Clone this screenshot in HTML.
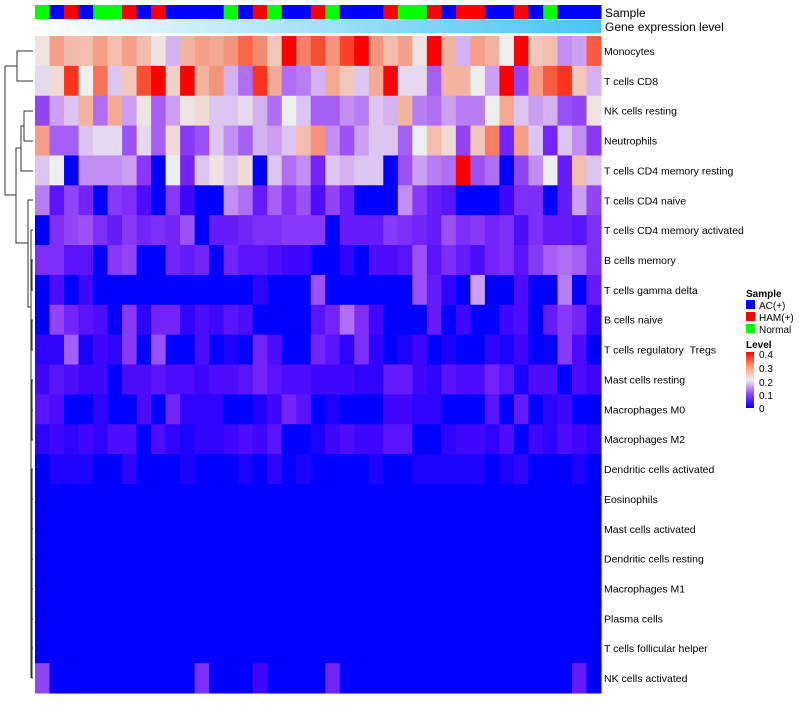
<!DOCTYPE html>
<html><head><meta charset="utf-8"><style>
body{margin:0;background:#fff;font-family:"Liberation Sans",sans-serif;}
svg text{font-family:"Liberation Sans",sans-serif;}
</style></head><body>
<svg id="chart" width="800" height="700" xmlns="http://www.w3.org/2000/svg">
<defs><linearGradient id="geneGrad" x1="0" x2="1" y1="0" y2="0"><stop offset="0" stop-color="#ffffff"/><stop offset="1" stop-color="#47c4f3"/></linearGradient>
<linearGradient id="levelGrad" x1="0" x2="0" y1="1" y2="0"><stop offset="0" stop-color="#0000ff"/><stop offset="0.25" stop-color="#9244f6"/><stop offset="0.5" stop-color="#eeeeee"/><stop offset="0.75" stop-color="#ff9a70"/><stop offset="1" stop-color="#ff0000"/></linearGradient></defs>
<g id="dendro" stroke="#333" stroke-width="1" fill="none">
<path d="M33 51H17V81H33"/><path d="M33 111H24V141H33"/><path d="M24 126H21V171H33"/><path d="M21 148H16V243H28"/>
<path d="M33 200H28V307H31"/><path d="M17 66H5V195H16"/>
<path d="M31 230V678"/><path d="M33 230H31M33 260H32V290H33M32 275H31M33 320H32V350H33M32 335H31M33 380H32V440H33M32 410H33M33 469H32V678H33M32 499H33M32 529H33M32 559H33M32 589H33M32 619H33M32 648H33"/>
</g>
<rect x="35" y="20" width="566" height="13" fill="url(#geneGrad)"/>
<text x="605" y="17" font-size="12">Sample</text>
<text x="605" y="31" font-size="12">Gene expression level</text>
<g>
<text x="746" y="297" font-size="10" font-weight="bold">Sample</text>
<rect x="746" y="300" width="9" height="9" fill="#0000ff"/><text x="759" y="309" font-size="10">AC(+)</text>
<rect x="746" y="312" width="9" height="9" fill="#ff0000"/><text x="759" y="321" font-size="10">HAM(+)</text>
<rect x="746" y="324" width="9" height="9" fill="#00ff00"/><text x="759" y="333" font-size="10">Normal</text>
<text x="746" y="348" font-size="10" font-weight="bold">Level</text>
<rect x="746" y="352" width="8" height="56" fill="url(#levelGrad)"/>
<text x="759" y="358" font-size="10">0.4</text>
<text x="759" y="372" font-size="10">0.3</text>
<text x="759" y="386" font-size="10">0.2</text>
<text x="759" y="399" font-size="10">0.1</text>
<text x="759" y="412" font-size="10">0</text>
</g>
</svg>
<script>
const rowNames=["Monocytes","T cells CD8","NK cells resting","Neutrophils","T cells CD4 memory resting","T cells CD4 naive","T cells CD4 memory activated","B cells memory","T cells gamma delta","B cells naive","T cells regulatory \u00a0Tregs","Mast cells resting","Macrophages M0","Macrophages M2","Dendritic cells activated","Eosinophils","Mast cells activated","Dendritic cells resting","Macrophages M1","Plasma cells","T cells follicular helper","NK cells activated"];
const sampleGroups="NAHANNHAHAAAANAHNAAHNAAAHNNHAHHAAHANAAA".slice(0,39).split("");
const z=new Array(39).fill(0);
const rMono=[0.21,0.28,0.25,0.25,0.28,0.25,0.28,0.25,0.21,0.17,0.26,0.28,0.27,0.29,0.33,0.3,0.24,0.4,0.31,0.35,0.29,0.36,0.4,0.29,0.25,0.28,0.21,0.4,0.26,0.17,0.28,0.26,0.2,0.4,0.24,0.25,0.15,0.16,0.34];
const rCD8=[0.19,0.22,0.37,0.2,0.32,0.18,0.24,0.35,0.4,0.23,0.4,0.26,0.29,0.17,0.13,0.37,0.27,0.13,0.14,0.17,0.27,0.24,0.18,0.27,0.4,0.19,0.19,0.12,0.26,0.26,0.2,0.16,0.4,0.1,0.28,0.34,0.37,0.24,0.17];
const rNKr=[0.1,0.16,0.18,0.26,0.13,0.27,0.16,0.21,0.12,0.16,0.21,0.22,0.18,0.18,0.19,0.17,0.13,0.2,0.18,0.12,0.12,0.15,0.14,0.18,0.17,0.26,0.14,0.13,0.16,0.14,0.14,0.2,0.27,0.18,0.16,0.17,0.11,0.1,0.21];
const rNeut=[0.28,0.12,0.12,0.18,0.19,0.19,0.11,0.19,0.12,0.22,0.09,0.11,0.18,0.15,0.12,0.17,0.16,0.18,0.25,0.29,0.15,0.11,0.16,0.18,0.18,0.12,0.2,0.25,0.22,0.1,0.24,0.31,0.07,0.28,0.18,0.07,0.18,0.15,0.09];
const rCD4mr=[0.18,0.2,0,0.15,0.15,0.15,0.16,0.09,0,0.2,0.07,0.18,0.21,0.18,0.22,0,0.18,0.13,0.15,0.07,0.18,0.17,0.18,0.18,0,0.11,0.16,0.14,0.13,0.4,0.11,0.13,0,0.1,0.15,0.2,0.06,0.25,0.18];
const rCD4n=[0.14,0.05,0.1,0.07,0,0.09,0.08,0.04,0,0.09,0.03,0,0,0.15,0.13,0.06,0.12,0.08,0.11,0.04,0.1,0.06,0,0,0,0.15,0.09,0.06,0.05,0,0,0,0.03,0.08,0.08,0,0.06,0.16,0.1];
const rCD4ma=[0,0.08,0.1,0.11,0.08,0.06,0.09,0.07,0.08,0.07,0.11,0,0.06,0.06,0.07,0.08,0.08,0.09,0.09,0.09,0,0.06,0.06,0.06,0.09,0.08,0.07,0.06,0.11,0.08,0.09,0.07,0.08,0.04,0.08,0.06,0.06,0.05,0.08];
const rBmem=[0.08,0.08,0.05,0.05,0,0.09,0.1,0,0,0.07,0.06,0.07,0,0.07,0.05,0.05,0.04,0.03,0.03,0,0,0.02,0,0.04,0.04,0.05,0.11,0.05,0.08,0.06,0.04,0.07,0.08,0.05,0.09,0.12,0.13,0.12,0.08];
const rGd=[0,0.04,0,0.03,0,0,0,0,0,0,0,0,0,0,0,0.02,0,0,0,0.11,0,0,0,0,0,0,0.11,0.06,0.02,0,0.16,0,0,0.04,0,0,0.14,0,0.06];
const rBn=[0,0.1,0.07,0.05,0.04,0,0.09,0.02,0.07,0.07,0.02,0.04,0.03,0.05,0.04,0,0,0,0,0.05,0.07,0.13,0.08,0.03,0,0,0,0.06,0,0.03,0,0,0.03,0.04,0,0.06,0.09,0.07,0.02];
const rTreg=[0.02,0.02,0.12,0.01,0.03,0.02,0.09,0,0.11,0,0,0.04,0,0.01,0,0.07,0.04,0,0,0.07,0.05,0.02,0.08,0.02,0,0.01,0.03,0,0.01,0,0,0.02,0.01,0.03,0,0,0.09,0.04,0];
const rMastR=[0.03,0.05,0.04,0.03,0.03,0,0.04,0.04,0.05,0.04,0.04,0.03,0.04,0.04,0.05,0.07,0.05,0.04,0.04,0.03,0.03,0.03,0.02,0.02,0.06,0.06,0.03,0.02,0.05,0.04,0.04,0.07,0.05,0.01,0.04,0.04,0,0.04,0.03];
const rM0=[0.05,0.04,0,0,0.02,0,0,0.04,0,0.07,0.02,0.02,0.02,0,0,0.01,0.03,0.07,0.05,0,0.01,0,0,0,0.03,0.03,0.02,0.02,0,0,0,0.05,0,0.06,0,0.02,0.03,0,0];
const rM2=[0.02,0.03,0.02,0.03,0.02,0.04,0.04,0,0.04,0.02,0.01,0.02,0.02,0.03,0.04,0.03,0.05,0,0,0.01,0.03,0.04,0.03,0.03,0.05,0.05,0,0,0.02,0.03,0.03,0.02,0.04,0,0.03,0.02,0.04,0.03,0.02];
const rDCa=[0,0.01,0.01,0.01,0,0,0.02,0,0,0,0.01,0,0,0,0.01,0,0.02,0,0.01,0,0,0,0,0.01,0,0,0.01,0.01,0.01,0.01,0.01,0,0.01,0.02,0,0,0,0.01,0];
const rNKa=[0.1,0,0,0,0,0,0,0,0,0,0,0.08,0,0,0,0.03,0,0,0,0,0.07,0,0,0,0,0,0,0,0,0,0,0,0,0,0,0,0,0.06,0];
const values=[rMono,rCD8,rNKr,rNeut,rCD4mr,rCD4n,rCD4ma,rBmem,rGd,rBn,rTreg,rMastR,rM0,rM2,rDCa,z,z,z,z,z,z,rNKa];

const X0=35,X1=601,Y0=36,Y1=693;
const nC=39,nR=rowNames.length;
const xs=i=>X0+i*(X1-X0)/nC, ys=j=>Y0+j*(Y1-Y0)/nR;
function col(v){
  let r,g,b;
  if(v<=0.2){const t=Math.max(0,v)/0.2;r=237*Math.pow(t,0.7);g=238*Math.pow(t,1.8);b=255-17*t;}
  else{const t=Math.min(1,(v-0.2)/0.2);r=238+17*t;g=238*Math.pow(1-t,0.8);b=238*Math.pow(1-t,1.1);}
  return `rgb(${Math.round(r)},${Math.round(g)},${Math.round(b)})`;
}
const grpColor={A:"#0000ff",H:"#ff0000",N:"#00ff00"};
const svg=document.getElementById('chart');
const NS="http://www.w3.org/2000/svg";
sampleGroups.forEach((g,i)=>{
  const r=document.createElementNS(NS,'rect');
  r.setAttribute('x',xs(i));r.setAttribute('y',5);
  r.setAttribute('width',(X1-X0)/nC+0.5);r.setAttribute('height',14);
  r.setAttribute('fill',grpColor[g]);
  
  
  svg.appendChild(r);
});
values.forEach((row,j)=>{
  row.forEach((v,i)=>{
    const r=document.createElementNS(NS,'rect');
    r.setAttribute('x',xs(i));r.setAttribute('y',ys(j));
    r.setAttribute('width',(X1-X0)/nC+0.5);r.setAttribute('height',(Y1-Y0)/nR+0.5);
    r.setAttribute('fill',col(v));
    
    
    svg.appendChild(r);
  });
  const t=document.createElementNS(NS,'text');
  t.setAttribute('x',604);t.setAttribute('y',ys(j+0.5)+4);
  t.setAttribute('font-size','10.5');
  t.textContent=rowNames[j];
  
  
  svg.appendChild(t);
});
</script>
</body></html>
